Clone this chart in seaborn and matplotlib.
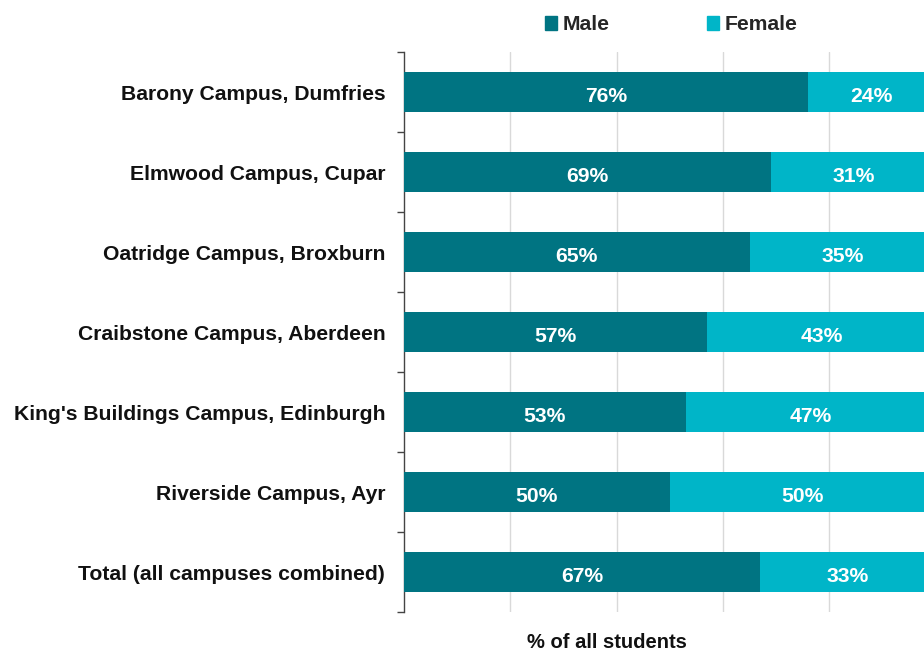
import matplotlib
matplotlib.use('Agg')
import matplotlib.pyplot as plt
from matplotlib.patches import Patch
import pandas as pd
import seaborn as sns

# Data
campuses = ['Barony Campus, Dumfries',
            'Elmwood Campus, Cupar',
            'Oatridge Campus, Broxburn',
            'Craibstone Campus, Aberdeen',
            "King's Buildings Campus, Edinburgh",
            'Riverside Campus, Ayr',
            'Total (all campuses combined)']
male = [76, 69, 65, 57, 53, 50, 67]
female = [24, 31, 35, 43, 47, 50, 33]

male_col = '#007482'
female_col = '#00B5C8'
fs = 15.2

df = pd.DataFrame({'Campus': campuses, 'Male': male, 'Female': female})
df['Total'] = df['Male'] + df['Female']

sns.set_style('white')
plt.rcParams['font.family'] = ['Liberation Sans', 'DejaVu Sans']
plt.rcParams['font.weight'] = 'bold'

fig = plt.figure(figsize=(9.24, 6.53), dpi=100)
ax = fig.add_axes([404 / 924, 41 / 653, 520 / 924, 560 / 653])

# stacked: full bar in female colour, male drawn on top
sns.barplot(data=df, x='Total', y='Campus', color=female_col, orient='h',
            width=0.5, saturation=1, linewidth=0, ax=ax, zorder=2)
sns.barplot(data=df, x='Male', y='Campus', color=male_col, orient='h',
            width=0.5, saturation=1, linewidth=0, ax=ax, zorder=3)

for i, row in df.iterrows():
    ax.text(row['Male'] / 2, i + 0.03, f"{row['Male']}%", color='white', fontsize=fs,
            fontweight='bold', ha='center', va='center_baseline', zorder=4)
    ax.text(row['Male'] + row['Female'] / 2, i + 0.03, f"{row['Female']}%", color='white',
            fontsize=fs, fontweight='bold', ha='center', va='center_baseline', zorder=4)

ax.set_xlim(0, 97.8)
ax.set_ylim(6.5, -0.5)
ax.set_xticks([20, 40, 60, 80])
ax.set_xticklabels([])
ax.tick_params(axis='x', length=0)
ax.grid(axis='x', color='#d9d9d9', linewidth=1, zorder=0)
ax.set_axisbelow(True)

ax.set_yticks(range(len(campuses)))
ax.set_yticklabels(campuses, fontsize=fs, fontweight='bold', color='#111111',
                   va='center_baseline')
ax.set_yticks([i - 0.5 for i in range(len(campuses) + 1)], minor=True)
ax.tick_params(axis='y', which='major', length=0, pad=13.5)
ax.tick_params(axis='y', which='minor', length=5, width=1, color='#444444', left=True)

for s in ['top', 'right', 'bottom']:
    ax.spines[s].set_visible(False)
ax.spines['left'].set_color('#444444')
ax.spines['left'].set_linewidth(1)
ax.set_xlabel('')
ax.set_ylabel('')

fig.text(607 / 924, 1 - 642 / 653, '% of all students', fontsize=14.5,
         fontweight='bold', ha='center', va='center', color='#111111')

handles = [Patch(color=male_col, label='Male'), Patch(color=female_col, label='Female')]
fig.legend(handles=handles, loc='center', bbox_to_anchor=(671 / 924, 1 - 25 / 653),
           ncol=2, frameon=False, fontsize=fs, handlelength=0.6, handleheight=0.6,
           handletextpad=0.25, columnspacing=4.6)

plt.savefig('out.png', dpi=100)
